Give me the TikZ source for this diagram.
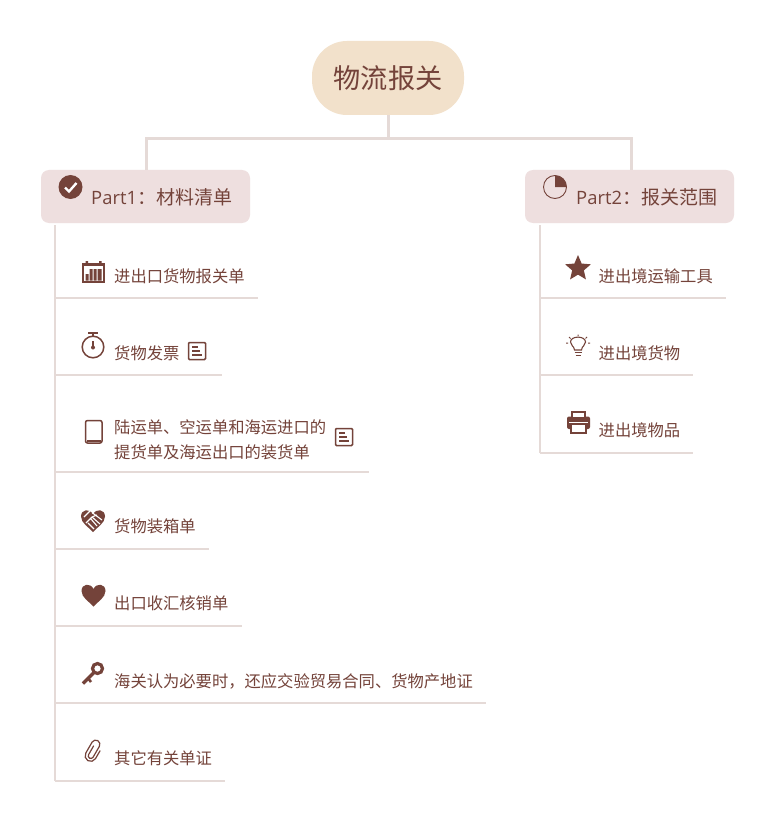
\documentclass[tikz,border=0pt]{standalone}
\usepackage{fontspec}
\setmainfont{Noto Sans CJK SC}
\newfontfamily\latinf{Open Sans}
\usetikzlibrary{shapes.geometric}
\definecolor{ink}{HTML}{74433A}
\definecolor{titlefill}{HTML}{F2E1CB}
\definecolor{partfill}{HTML}{EEDFDF}
\definecolor{linec}{HTML}{E5DAD7}
\tikzset{
 titlebox/.style={fill=titlefill,rounded corners=35pt,minimum width=152pt,minimum height=74pt,inner sep=0pt,text=ink,font=\fontsize{27.2}{27}\selectfont},
 partbox/.style={fill=partfill,rounded corners=8pt,minimum width=209pt,minimum height=53pt,inner sep=0pt},
 parttext/.style={anchor=west,inner sep=0pt,text=ink,font=\fontsize{19}{19}\selectfont},
 itemtext/.style={anchor=west,inner sep=0pt,text=ink,font=\fontsize{16.3}{25}\selectfont,align=left},
 branch/.style={draw=linec,line width=3pt},
 trunk/.style={draw=linec,line width=2pt},
 rule/.style={draw=linec,line width=1.3pt},
 icon/.style={draw=ink,line width=1.5pt,fill=none},
 solid icon/.style={fill=ink,draw=none},
 x=1pt,y=-1pt
}
\newcommand{\noteicon}[1]{%
 \begin{scope}[shift={(#1)}]
  \draw[icon,rounded corners=1pt] (-8.5,-8.5) rectangle (8.5,8.5);
  \draw[draw=ink,line width=1.2pt] (-5,-4)--(0.5,-4) (-5,0)--(2.5,0) (-5,4)--(5,4);
 \end{scope}}
\newcommand{\heartshape}[1]{%
 \fill[solid icon,shift={(#1)}] (0,11) .. controls (-4,6.5) and (-12,2) .. (-12,-4.5)
   .. controls (-12,-12) and (-3,-13) .. (0,-6.5)
   .. controls (3,-13) and (12,-12) .. (12,-4.5)
   .. controls (12,2) and (4,6.5) .. (0,11) -- cycle;}
\newcommand{\fwcolon}{\symbol{"FF1A}}
\newcommand{\fwcomma}{\symbol{"FF0C}}
\begin{document}
\begin{tikzpicture}
\useasboundingbox (0,0) rectangle (775,821);
\fill[white] (0,0) rectangle (775,821);
% title and parts
\node[titlebox] (title) at (388,78) {物流报关};
\node[partbox] (p1) at (145.5,196.5) {};
\node[partbox] (p2) at (629.5,196.5) {};
\coordinate (j) at (388.5,139);
\draw[branch] (title.south) ++(0.5,0) -- (j);
\draw[branch] (p1.north) ++(0.5,0) |- (j);
\draw[branch] (p2.north) ++(1.5,0) |- (j);
\node[parttext] (p1t) at (91,197) {{\latinf\fontsize{18.4}{19}\selectfont Part1}\fwcolon 材料清单};
\node[parttext] (p2t) at (576,197) {{\latinf\fontsize{18.4}{19}\selectfont Part2}\fwcolon 报关范围};
% trunks
\coordinate (l0) at (55,225); \coordinate (l1) at (55,781);
\coordinate (r0) at (540,225); \coordinate (r1) at (540,453);
\draw[trunk] (l0) -- (l1);
\draw[trunk] (r0) -- (r1);
% left rules
\foreach \n/\y/\xe in {a/298/258,b/375/222,c/472/369,d/549/209,e/626/242,f/703/486,g/781/225}{
 \coordinate (\n s) at (55,\y); \coordinate (\n e) at (\xe,\y);
 \draw[rule] (\n s) -- (\n e);}
% right rules
\foreach \n/\y/\xe in {h/298/726,i/375/693,j2/453/693}{
 \coordinate (\n s) at (540,\y); \coordinate (\n e) at (\xe,\y);
 \draw[rule] (\n s) -- (\n e);}
% left labels
\node[itemtext] (ta) at (114,276) {进出口货物报关单};
\node[itemtext] (tb) at (114,353) {货物发票};
\node[itemtext] (tc) at (114,439.5) {陆运单、空运单和海运进口的\\提货单及海运出口的装货单};
\node[itemtext] (td) at (114,526.5) {货物装箱单};
\node[itemtext] (te) at (114,603.5) {出口收汇核销单};
\node[itemtext] (tf) at (114,681) {海关认为必要时\fwcomma 还应交验贸易合同、货物产地证};
\node[itemtext] (tg) at (114,758.5) {其它有关单证};
% right labels
\node[itemtext] (th) at (598.5,276) {进出境运输工具};
\node[itemtext] (ti) at (598.5,353) {进出境货物};
\node[itemtext] (tj) at (598.5,430.5) {进出境物品};
% note icons
\noteicon{197,351}
\noteicon{344,437}
% check circle
\fill[solid icon] (70.5,187) circle (12);
\draw[draw=white,line width=2.4pt] (65,187.5) -- (69,191.5) -- (76.5,183);
% pie
\draw[draw=ink,line width=0.9pt] (555,187) circle (11.5);
\fill[solid icon] (555,187) -- (555,175.5) arc[start angle=90,end angle=0,radius=11.5pt] -- cycle;
% calendar
\begin{scope}[shift={(93.5,272)}]
 \fill[solid icon] (-11.5,-9) rectangle (11.5,11);
 \fill[white] (-9.5,-6) rectangle (9.5,9);
 \fill[solid icon] (-8,2) rectangle (-5,8.5) (-4,-3) rectangle (-1,8.5) (0,-3) rectangle (3,8.5) (4,-3) rectangle (8,8.5);
 \fill[solid icon] (-8,-11) rectangle (-5.5,-8) (5.5,-11) rectangle (8,-8);
\end{scope}
% stopwatch
\draw[icon] (93,347) circle (10.8);
\draw[icon] (88,333) -- (98,333) (93,333) -- (93,336);
\fill[solid icon] (93,347.5) circle (2);
\draw[draw=ink,line width=1.2pt] (93,347) -- (93,341);
% tablet
\draw[icon,rounded corners=2pt] (85.5,420.5) rectangle (102,443);
\draw[draw=ink,line width=2.5pt] (87,441) -- (100.5,441);
% handshake heart
\heartshape{93,521}
\draw[draw=white,line width=1.1pt] (84,517) -- (91,510) (92,512.5) -- (102,520) (86,523) -- (92,517) -- (97,515)
 (91,519) -- (97,526) (88,523) -- (94,529) (92,517) -- (100,524);
% heart
\heartshape{93.5,595.5}
% key
\draw[draw=ink,line width=3.2pt] (97.5,668.5) circle (5);
\draw[draw=ink,line width=3.4pt] (94,672.5) -- (83,683.5);
\draw[draw=ink,line width=2.6pt] (88,678) -- (91,682);
% paper clip
\begin{scope}[shift={(93.5,750.5)},y=1pt,rotate=-30]
 \draw[draw=ink,line width=1.2pt,line cap=round]
  (-2.2,4) -- (-2.2,-6) arc[start angle=180,end angle=360,radius=2.6] -- (3,6.5)
  arc[start angle=0,end angle=180,radius=4.2] -- (-5.4,-6)
  arc[start angle=180,end angle=360,radius=5.6] -- (5.8,3);
\end{scope}
% star
\node[star,star points=5,star point ratio=2.2,fill=ink,inner sep=0pt,minimum size=27pt] (st) at (578,268.5) {};
% bulb
\draw[draw=ink,line width=1.1pt] (574.5,350) .. controls (574,345.5) and (570.5,346) .. (570.5,342)
  .. controls (570.5,335.5) and (585.5,335.5) .. (585.5,342)
  .. controls (585.5,346) and (582,345.5) .. (581.5,350) -- cycle;
\draw[draw=ink,line width=1pt] (574.5,352.5) -- (581.5,352.5) (575.5,355) -- (580.5,355);
\draw[draw=ink,line width=1pt] (578,334.5) -- (578,336) (569,337) -- (570.5,338.5) (587,337) -- (585.5,338.5) (568,343) -- (566,343) (588,343) -- (590,343);
% printer
\fill[solid icon,rounded corners=2pt] (567,416.5) rectangle (590,429);
\fill[solid icon] (570.5,411) rectangle (586,417);
\fill[white] (572.5,413) rectangle (584,417);
\fill[white] (569,421.5) rectangle (588,423);
\draw[draw=ink,line width=1.8pt,fill=white] (571,424) rectangle (586,433);
\end{tikzpicture}
\end{document}
